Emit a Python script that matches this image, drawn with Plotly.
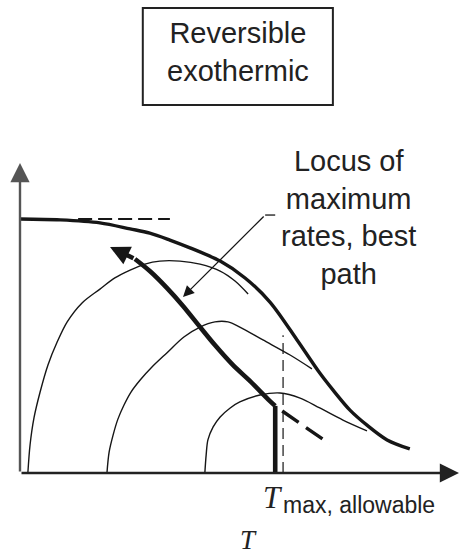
import plotly.graph_objects as go

# ---- data (T on a 0-100 scale, conversion/rate ordinate on a 0-1 scale) ----
# equilibrium line of the reversible exothermic reaction
EQ_T = [0, 9.2, 18.3, 25.2, 29.7, 34.3, 38.9, 45.8, 51.5, 57.2, 63.4, 68.6, 71.6, 75.5, 79.4, 84.0, 89.2]
EQ_X = [0.844, 0.841, 0.831, 0.811, 0.797, 0.774, 0.748, 0.704, 0.648, 0.568, 0.442, 0.332, 0.276, 0.209, 0.159, 0.110, 0.080]
EQ_HOLD_T = [13.3, 34.3]          # low-temperature asymptote (dashed)
EQ_HOLD_X = [0.844, 0.844]

# constant-rate contours
RATE1_T = [1.8, 2.3, 3.2, 4.6, 6.4, 8.5, 10.8, 14.2, 18.3, 21.7, 25.2, 28.6, 32.0, 36.6, 41.2, 45.8, 49.2, 52.2]
RATE1_X = [0.0, 0.093, 0.183, 0.269, 0.359, 0.435, 0.502, 0.565, 0.611, 0.648, 0.674, 0.694, 0.704, 0.704, 0.694, 0.671, 0.638, 0.595]
RATE2_T = [19.9, 20.4, 21.3, 22.4, 23.8, 25.4, 27.5, 30.2, 33.6, 37.5, 41.2, 44.6, 47.6, 50.3, 55.6, 61.8, 66.8]
RATE2_X = [0.0, 0.070, 0.126, 0.179, 0.226, 0.269, 0.309, 0.352, 0.399, 0.452, 0.485, 0.502, 0.502, 0.485, 0.442, 0.392, 0.346]
RATE3_T = [42.3, 42.6, 43.0, 44.2, 45.8, 48.1, 50.3, 54.9, 59.5, 64.1, 68.6, 73.9, 79.4]
RATE3_X = [0.0, 0.060, 0.110, 0.153, 0.186, 0.216, 0.236, 0.259, 0.266, 0.249, 0.216, 0.176, 0.140]

# best path: heat at T max, allowable, then follow the locus of maximum rates
BEST_T = [58.4, 58.4, 57.2, 52.6, 48.7, 44.6, 41.2, 37.3, 33.6, 29.7, 26.3]
BEST_X = [0.0, 0.223, 0.239, 0.306, 0.359, 0.425, 0.485, 0.555, 0.615, 0.671, 0.711]
BEST_TIP = (20.6, 0.751)
LOCUS_EXT_T = [60.0, 70.9]        # unreachable continuation beyond T max (dashed)
LOCUS_EXT_X = [0.206, 0.096]

T_MAX = 60.2
T_MAX_TOP = 0.458

# ---- layout geometry ----
W, H = 459, 557
ORIGIN_PX = (20, 473)
PX_PER_T = 4.37
PX_PER_X = 301.0
x_range = [-ORIGIN_PX[0] / PX_PER_T, (W - ORIGIN_PX[0]) / PX_PER_T]
y_range = [(ORIGIN_PX[1] - H) / PX_PER_X, ORIGIN_PX[1] / PX_PER_X]

INK = "#161616"
SANS = "Liberation Sans, Arial, sans-serif"
SERIF = "Liberation Serif, Times New Roman, serif"

fig = go.Figure()


def curve(t, x, width, dash=None, shape="spline", color=INK):
    fig.add_trace(go.Scatter(
        x=t, y=x, mode="lines", hoverinfo="skip",
        line=dict(color=color, width=width, dash=dash, shape=shape, smoothing=0.9),
    ))


curve(RATE1_T, RATE1_X, 1.4)
curve(RATE2_T, RATE2_X, 1.4)
curve(RATE3_T, RATE3_X, 1.4)
curve([T_MAX, T_MAX], [0, T_MAX_TOP], 1.2, dash="11px,6px", shape="linear")
curve(EQ_T, EQ_X, 3.4)
curve(EQ_HOLD_T, EQ_HOLD_X, 2.0, dash="14px,6px", shape="linear")
curve(BEST_T[:2], BEST_X[:2], 4.6, shape="linear")
curve(BEST_T[1:], BEST_X[1:], 4.6)
curve(LOCUS_EXT_T, LOCUS_EXT_X, 3.4, dash="20px,9px", shape="linear")

# leader line of the label
LEADER_T = [58.4, 56.1]
LEADER_X = [0.857, 0.857]
curve(LEADER_T, LEADER_X, 1.3, shape="linear")

annotations = [
    # axes with arrowheads
    dict(x=0, y=(ORIGIN_PX[1] - 163) / PX_PER_X, ax=0, ay=0, xref="x", yref="y", axref="x", ayref="y",
         showarrow=True, arrowhead=2, arrowsize=1.6, arrowwidth=2.4, arrowcolor="#555", text="", standoff=0),
    dict(x=x_range[1], y=0, ax=0, ay=0, xref="x", yref="y", axref="x", ayref="y",
         showarrow=True, arrowhead=2, arrowsize=1.6, arrowwidth=2.4, arrowcolor="#222", text="", standoff=0),
    # arrowhead at the end of the best path
    dict(x=BEST_TIP[0], y=BEST_TIP[1], ax=BEST_T[-1], ay=BEST_X[-1], xref="x", yref="y", axref="x", ayref="y",
         showarrow=True, arrowhead=2, arrowsize=0.85, arrowwidth=4.6, arrowcolor=INK, text="", standoff=0),
    # label arrow
    dict(x=37.3, y=0.585, ax=LEADER_T[1], ay=LEADER_X[1], xref="x", yref="y", axref="x", ayref="y",
         showarrow=True, arrowhead=2, arrowsize=1.7, arrowwidth=1.3, arrowcolor=INK, text="", standoff=0),
    dict(x=75.1, y=0.848, xref="x", yref="y", showarrow=False, align="center",
         text="Locus of<br>maximum<br>rates, best<br>path", font=dict(family=SANS, size=29, color="#222")),
    # title box text
    dict(x=49.9, y=1.398, xref="x", yref="y", showarrow=False, align="center",
         text="Reversible<br>exothermic", font=dict(family=SANS, size=29, color="#222")),
    # T max, allowable
    dict(x=57.9, y=-0.080, xref="x", yref="y", showarrow=False,
         text="<i>T</i>", font=dict(family=SERIF, size=31, color="#222")),
    dict(x=(281 - ORIGIN_PX[0]) / PX_PER_T, y=-0.107, xref="x", yref="y", showarrow=False, xanchor="left",
         text="max, allowable", font=dict(family=SANS, size=23, color="#222")),
    # axis title
    dict(x=52.4, y=-0.222, xref="x", yref="y", showarrow=False,
         text="<i>T</i>", font=dict(family=SERIF, size=27, color="#222")),
]

shapes = [
    dict(type="rect", xref="x", yref="y", x0=28.1, x1=71.6, y0=1.223, y1=1.545,
         line=dict(color="#222", width=2), fillcolor="rgba(0,0,0,0)"),
]

fig.update_layout(
    width=W, height=H,
    margin=dict(l=0, r=0, t=0, b=0),
    paper_bgcolor="white", plot_bgcolor="white",
    showlegend=False,
    xaxis=dict(range=x_range, visible=False, fixedrange=True),
    yaxis=dict(range=y_range, visible=False, fixedrange=True),
    annotations=annotations,
    shapes=shapes,
)

fig.write_html("out.html")
